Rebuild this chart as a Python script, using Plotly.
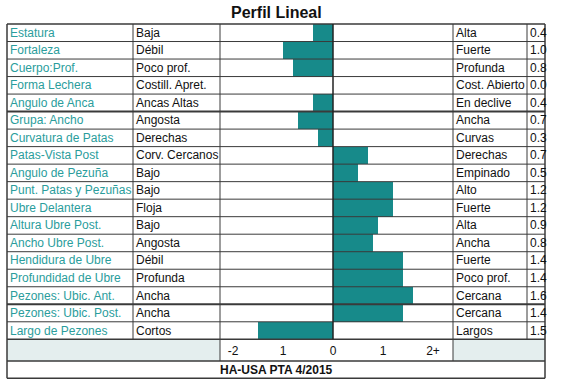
import plotly.graph_objects as go

# ---------------- data ----------------
traits = ["Estatura", "Fortaleza", "Cuerpo:Prof.", "Forma Lechera", "Angulo de Anca",
          "Grupa: Ancho", "Curvatura de Patas", "Patas-Vista Post", "Angulo de Pezuña",
          "Punt. Patas y Pezuñas", "Ubre Delantera", "Altura Ubre Post.", "Ancho Ubre Post.",
          "Hendidura de Ubre", "Profundidad de Ubre", "Pezones: Ubic. Ant.",
          "Pezones: Ubic. Post.", "Largo de Pezones"]
low_labels = ["Baja", "Débil", "Poco prof.", "Costill. Apret.", "Ancas Altas", "Angosta",
              "Derechas", "Corv. Cercanos", "Bajo", "Bajo", "Floja", "Bajo", "Angosta",
              "Débil", "Profunda", "Ancha", "Ancha", "Cortos"]
high_labels = ["Alta", "Fuerte", "Profunda", "Cost. Abierto", "En declive", "Ancha",
               "Curvas", "Derechas", "Empinado", "Alto", "Fuerte", "Alta", "Ancha",
               "Fuerte", "Poco prof.", "Cercana", "Cercana", "Largos"]
values = [-0.4, -1.0, -0.8, 0.0, -0.4, -0.7, -0.3, 0.7, 0.5, 1.2, 1.2, 0.9, 0.8,
          1.4, 1.4, 1.6, 1.4, -1.5]
tick_vals = [-2, -1, 0, 1, 2]
tick_text = ["-2", "1", "0", "1", "2+"]
title_text = "Perfil Lineal"
footer_text = "HA-USA PTA 4/2015"

# ---------------- layout geometry (pixels) ----------------
W, H = 569, 387
X_LEFT, X_C2, X_BAR0, X_BAR1, X_C4, X_RIGHT = 7, 133, 220, 453, 527, 545
X_VAL = 527
TOP, ROWS_BOTTOM, AXIS_BOTTOM, FOOT_BOTTOM = 24, 339.3, 361, 378.3
ZERO_PX = 333
PX_PER_UNIT = 50

def px(x):
    return x / W

def py(y):
    return 1 - y / H

FONT = "Liberation Sans, Arial, sans-serif"
TEAL_TXT = "#2a9d9c"
BAR_COLOR = "#178a8a"
LINE = "#3a3a3a"
AXIS_FILL = "#e4eeee"

n = len(traits)
row_h = (ROWS_BOTTOM - TOP) / n

fig = go.Figure()
fig.add_trace(go.Bar(
    x=values, y=traits, orientation="h",
    marker=dict(color=BAR_COLOR, line=dict(width=0)),
    width=1.0, hoverinfo="x+y", showlegend=False,
))

shapes = []
# axis row fills
shapes.append(dict(type="rect", xref="paper", yref="paper", layer="below",
                   x0=px(X_LEFT), x1=px(X_BAR0), y0=py(AXIS_BOTTOM), y1=py(ROWS_BOTTOM),
                   fillcolor=AXIS_FILL, line=dict(width=0)))
shapes.append(dict(type="rect", xref="paper", yref="paper", layer="below",
                   x0=px(X_BAR1), x1=px(X_RIGHT), y0=py(AXIS_BOTTOM), y1=py(ROWS_BOTTOM),
                   fillcolor=AXIS_FILL, line=dict(width=0)))

def hline(ypix, x0, x1, w=1):
    shapes.append(dict(type="line", xref="paper", yref="paper",
                       x0=px(x0), x1=px(x1), y0=py(ypix), y1=py(ypix),
                       line=dict(color=LINE, width=w)))

def vline(xpix, y0, y1, w=1):
    shapes.append(dict(type="line", xref="paper", yref="paper",
                       x0=px(xpix), x1=px(xpix), y0=py(y0), y1=py(y1),
                       line=dict(color=LINE, width=w)))

thick_rows = {0: 1.5, 5: 2, 16: 2, n: 1.5}
for i in range(n + 1):
    hline(TOP + i * row_h, X_LEFT, X_RIGHT, thick_rows.get(i, 1))
hline(AXIS_BOTTOM, X_LEFT, X_RIGHT, 1.5)
hline(FOOT_BOTTOM, X_LEFT, X_RIGHT, 1.5)

vline(X_LEFT, TOP, FOOT_BOTTOM, 1.5)
vline(X_RIGHT, TOP, FOOT_BOTTOM, 1.5)
vline(X_C2, TOP, ROWS_BOTTOM)
vline(X_BAR0, TOP, AXIS_BOTTOM)
vline(X_BAR1, TOP, AXIS_BOTTOM)
vline(X_C4, TOP, ROWS_BOTTOM)

# zero line via data axis
shapes.append(dict(type="line", xref="x", yref="y domain", x0=0, x1=0, y0=0, y1=1,
                   line=dict(color="#222222", width=1.5)))

annotations = []
for t, lo, hi, v in zip(traits, low_labels, high_labels, values):
    annotations.append(dict(xref="paper", yref="y", x=px(X_LEFT + 1), y=t, text=t,
                            xanchor="left", yanchor="middle", showarrow=False,
                            font=dict(family=FONT, size=12, color=TEAL_TXT)))
    annotations.append(dict(xref="paper", yref="y", x=px(X_C2 + 1), y=t, text=lo,
                            xanchor="left", yanchor="middle", showarrow=False,
                            font=dict(family=FONT, size=12, color="#111111")))
    annotations.append(dict(xref="paper", yref="y", x=px(X_BAR1 + 1), y=t, text=hi,
                            xanchor="left", yanchor="middle", showarrow=False,
                            font=dict(family=FONT, size=12, color="#111111")))
    annotations.append(dict(xref="paper", yref="y", x=px(X_VAL + 1), y=t,
                            text=f"{abs(v):.1f}",
                            xanchor="left", yanchor="middle", showarrow=False,
                            font=dict(family=FONT, size=12, color="#111111")))

annotations.append(dict(xref="paper", yref="paper", x=px(276), y=py(12), text=f"<b>{title_text}</b>",
                        xanchor="center", yanchor="middle", showarrow=False,
                        font=dict(family=FONT, size=16, color="#111111")))
annotations.append(dict(xref="paper", yref="paper", x=px(276.5), y=py((AXIS_BOTTOM + FOOT_BOTTOM) / 2),
                        text=f"<b>{footer_text}</b>",
                        xanchor="center", yanchor="middle", showarrow=False,
                        font=dict(family=FONT, size=12, color="#111111")))

x_min = -(ZERO_PX - X_BAR0) / PX_PER_UNIT
x_max = (X_BAR1 - ZERO_PX) / PX_PER_UNIT

fig.update_layout(
    width=W, height=H, autosize=False,
    margin=dict(l=0, r=0, t=0, b=0, pad=0),
    paper_bgcolor="white", plot_bgcolor="rgba(0,0,0,0)",
    bargap=0,
    shapes=shapes, annotations=annotations,
    xaxis=dict(domain=[px(X_BAR0), px(X_BAR1)], range=[x_min, x_max],
               showgrid=False, zeroline=False, showline=False,
               tickvals=tick_vals, ticktext=tick_text, ticks="",
               ticklabelstandoff=3,
               tickfont=dict(family=FONT, size=12, color="#111111"), fixedrange=True),
    yaxis=dict(domain=[py(ROWS_BOTTOM), py(TOP)], range=[n - 0.5, -0.5],
               type="category", categoryorder="array", categoryarray=traits,
               visible=False, fixedrange=True),
    showlegend=False,
)

fig.write_html("out.html", config={"displayModeBar": False},
               post_script="document.body.style.margin='0';document.body.style.overflow='hidden';")
